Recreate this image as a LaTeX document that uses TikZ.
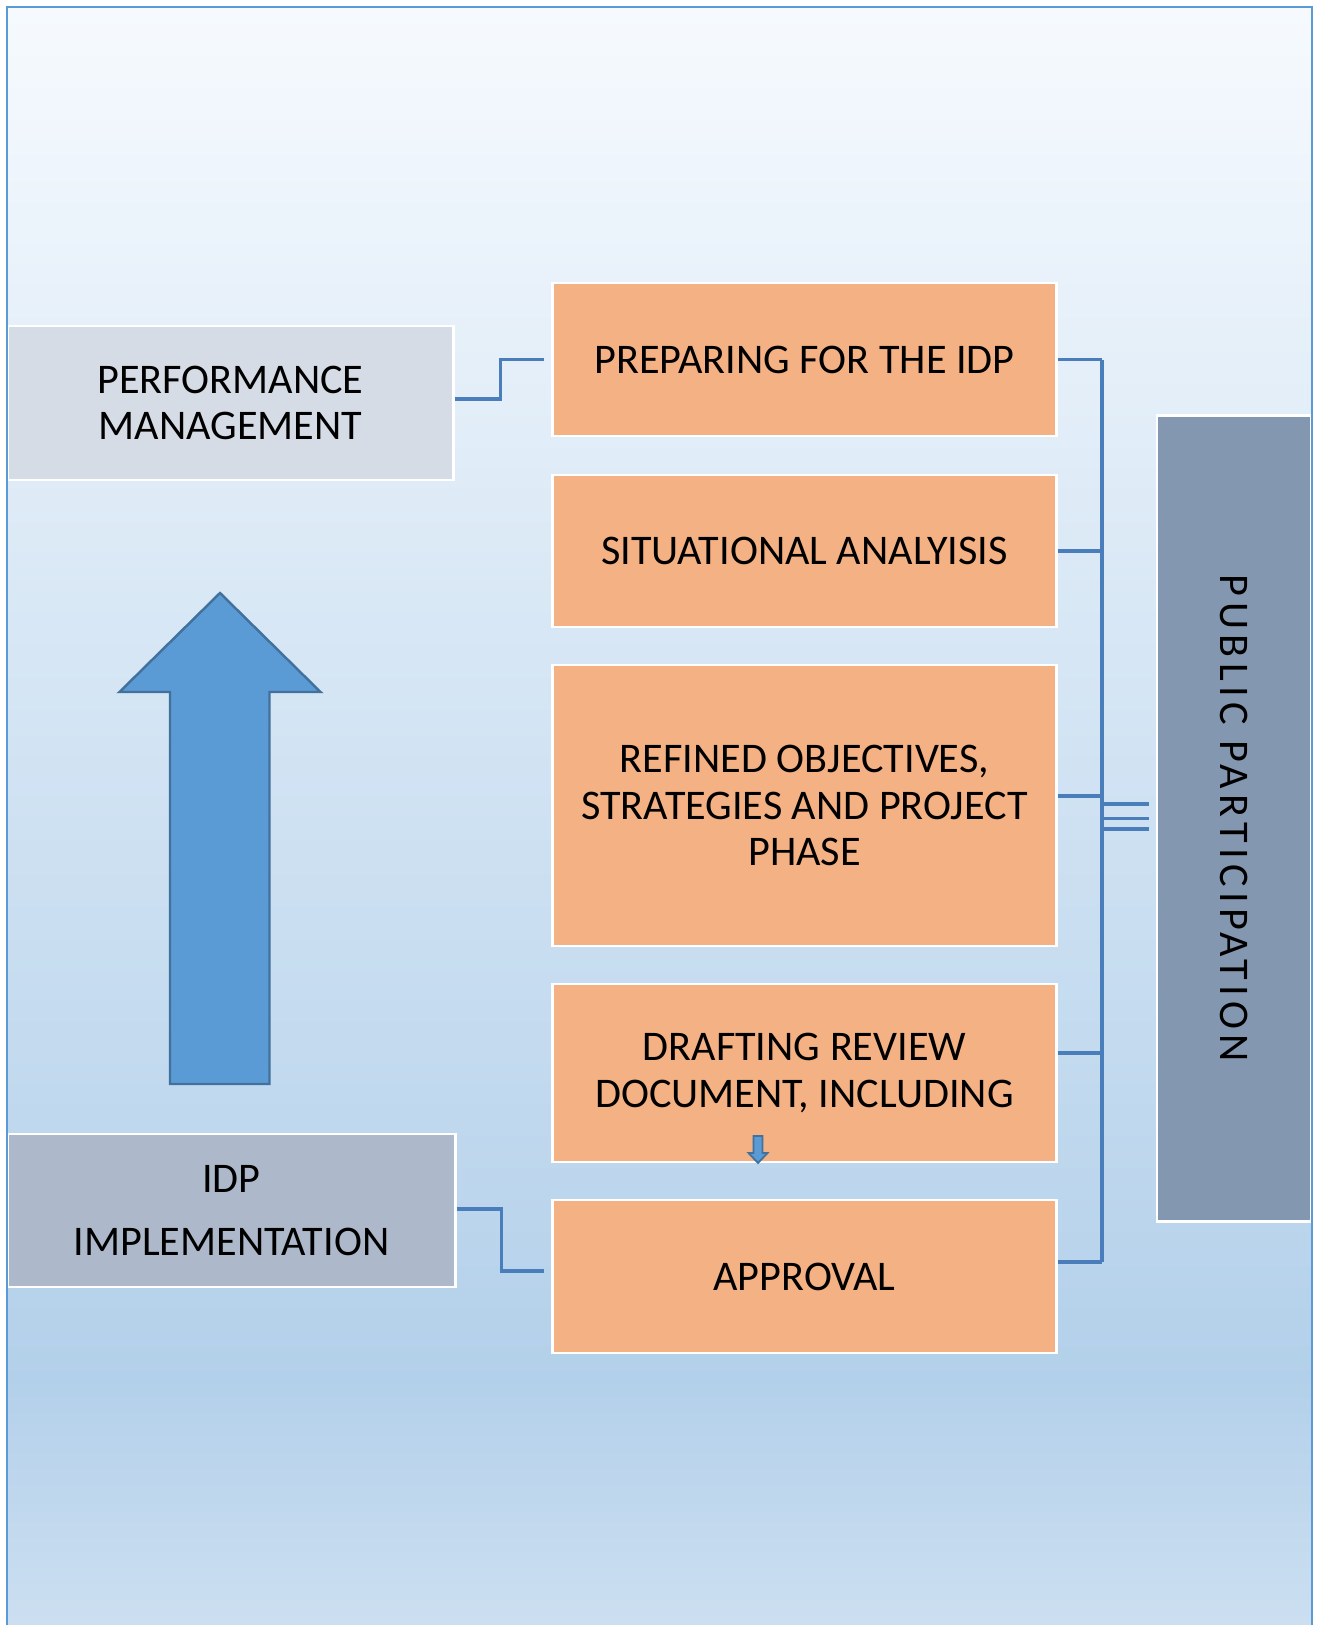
\documentclass[tikz,border=0pt]{standalone}
\usepackage{fontspec}
\setmainfont{Carlito}
\newfontfamily\widefont[LetterSpace=13]{Carlito}
\usetikzlibrary{calc}

\definecolor{phasefill}{HTML}{F4B183}
\definecolor{perffill}{HTML}{D6DCE5}
\definecolor{implfill}{HTML}{ADB9CA}
\definecolor{pubfill}{HTML}{8497B0}
\definecolor{linkblue}{HTML}{4A7EBB}
\definecolor{arrowfill}{HTML}{5B9BD5}
\definecolor{arrowline}{HTML}{41719C}
\definecolor{frameblue}{HTML}{5B9BD5}
\definecolor{bgtop}{HTML}{F6FAFE}
\definecolor{bgmid}{HTML}{B3D0EA}
\definecolor{bgbot}{HTML}{CCDFF1}

\tikzset{
  box/.style={draw=white, line width=0.8pt, align=center, inner sep=0pt,
    font=\fontsize{12}{13.3}\selectfont},
  phase/.style={box, fill=phasefill, minimum width=5.03cm},
  link/.style={draw=linkblue, line width=0.9pt},
  bigarrow/.style={fill=arrowfill, draw=arrowline, line width=0.7pt, line join=miter}
}

\begin{document}
\begin{tikzpicture}[x=0.01cm, y=-0.01cm]
\useasboundingbox (0,0) rectangle (1317,1625);

% page background
\shade[top color=bgtop, bottom color=bgmid] (7,7) rectangle (1312,1380);
\shade[top color=bgmid, bottom color=bgbot] (7,1379.5) rectangle (1312,1625);

% side boxes
\node[box, fill=perffill, minimum width=4.45cm, minimum height=1.54cm] (perf) at (230.5,403) {PERFORMANCE\\MANAGEMENT};
\node[box, fill=implfill, minimum width=4.47cm, minimum height=1.53cm] (impl) at (231.5,1210.5) {IDP\\[4.8pt]IMPLEMENTATION};

% phases
\node[phase, minimum height=1.53cm] (prep) at (804.5,359.5) {PREPARING FOR THE IDP};
\node[phase, minimum height=1.52cm] (situ) at (804.5,551) {SITUATIONAL ANALYISIS};
\node[phase, minimum height=2.81cm] (refi) at (804.5,805.5) {REFINED OBJECTIVES,\\STRATEGIES AND PROJECT\\PHASE};
\node[phase, minimum height=1.78cm] (draf) at (804.5,1073) {DRAFTING REVIEW\\DOCUMENT, INCLUDING};
\node[phase, minimum height=1.53cm] (appr) at (804.5,1276.5) {APPROVAL};

\node[box, fill=pubfill, rotate=-90, minimum width=8.05cm, minimum height=1.54cm,
  font=\widefont\fontsize{12}{13.3}\selectfont] (pub) at (1234,818.5) {PUBLIC PARTICIPATION};

% big up arrow
\draw[bigarrow] (220,593) -- (320.5,692) -- (269.5,692) -- (269.5,1084)
  -- (170,1084) -- (170,692) -- (119.5,692) -- cycle;

% small down arrow
\draw[bigarrow, line width=0.5pt] (753.5,1136) -- (762.5,1136) -- (762.5,1153) -- (767.5,1153)
  -- (758,1163) -- (748.5,1153) -- (753.5,1153) -- cycle;

% elbow links on the left
\draw[link] ([yshift=0.04cm]perf.east) -- ++(46,0) |- ([xshift=-0.07cm]prep.west);
\draw[link] ([yshift=0.015cm]impl.east) -- ++(45,0) |- ([xshift=-0.07cm,yshift=0.055cm]appr.west);

% bus on the right
\coordinate (busTop) at (1102,360);
\coordinate (busBot) at (1102,1262);
\draw[link] (prep.east) -- (prep.east -| busTop);
\draw[link] (situ.east) -- (situ.east -| busTop);
\draw[link] ([yshift=0.095cm]refi.east) -- ([yshift=0.095cm]refi.east -| busTop);
\draw[link] ([yshift=0.2cm]draf.east) -- ([yshift=0.2cm]draf.east -| busTop);
\draw[link] ([yshift=0.145cm]appr.east) -- ([yshift=0.145cm]appr.east -| busTop);
\draw[link] (busTop) -- (busBot);
\foreach \dy in {-14.5,0,10.5}
  \draw[link] ($(busTop |- pub.south)+(2,\dy)$) -- ($(pub.south)+(-7,\dy)$);

% frame, open at the bottom
\draw[frameblue, line width=0.6pt] (7,1625) -- (7,7) -- (1312,7) -- (1312,1625);
\end{tikzpicture}
\end{document}
